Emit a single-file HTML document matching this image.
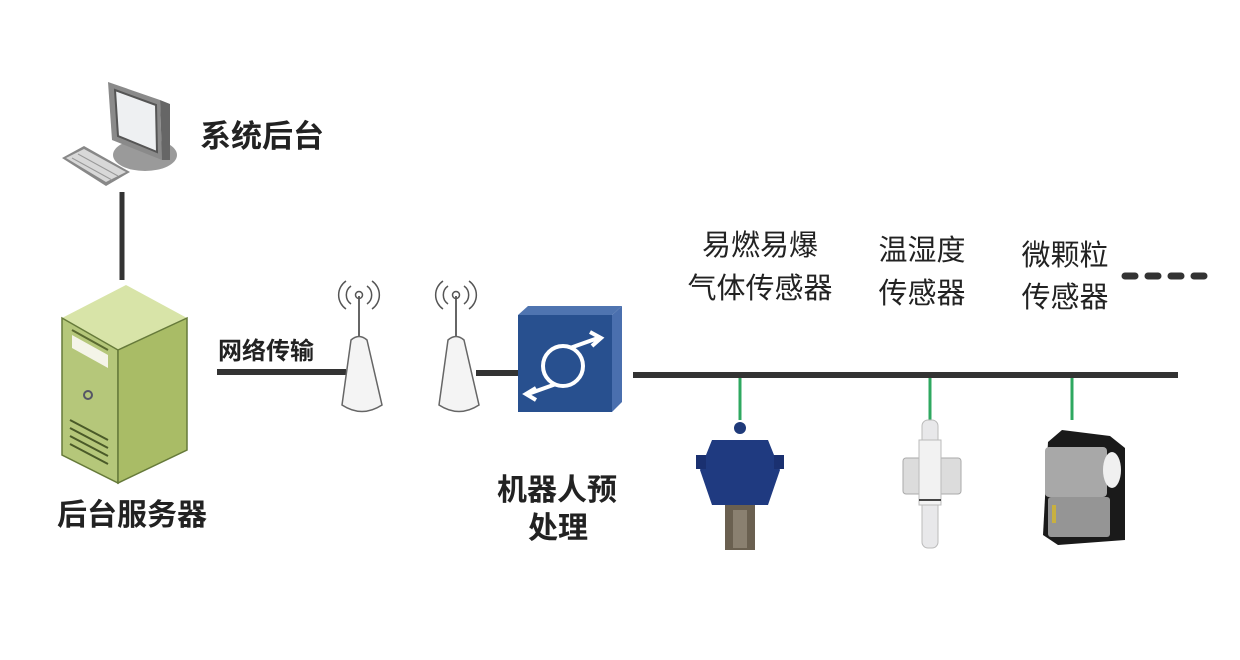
<!DOCTYPE html>
<html><head><meta charset="utf-8"><style>
html,body{margin:0;padding:0;background:#fff;width:1240px;height:660px;overflow:hidden}
svg{display:block}
text{font-family:"Liberation Sans","Noto Sans CJK SC",sans-serif;fill:#222}
</style></head><body>
<svg width="1240" height="660" viewBox="0 0 1240 660">
<!-- monitor -->
<ellipse cx="145" cy="155" rx="32" ry="16" fill="#9a9a9a"/>
<polygon points="108,82 160,100 162,160 112,140" fill="#8a8a8a"/>
<polygon points="115,90 156,105 157,152 118,136" fill="#eef0f2" stroke="#555" stroke-width="2"/>
<polygon points="160,100 170,104 170,160 162,160" fill="#666"/>
<!-- keyboard -->
<polygon points="62,158 84,146 130,172 106,186" fill="#888"/>
<polygon points="66,158 84,149 126,172 106,182" fill="#d8d8d8"/>
<g stroke="#999" stroke-width="1"><line x1="72" y1="158" x2="112" y2="180"/><line x1="78" y1="154" x2="118" y2="176"/></g>
<line x1="122" y1="192" x2="122" y2="280" stroke="#333" stroke-width="5"/>
<text x="200" y="147" font-size="31" font-weight="bold">系统后台</text>
<!-- server -->
<polygon points="62,318 126,285 187,318 118,350" fill="#d8e4a8"/>
<polygon points="62,318 118,350 118,483 62,455" fill="#b5c77a" stroke="#667a3a" stroke-width="1.5"/>
<polygon points="118,350 187,318 187,450 118,483" fill="#a9bc66" stroke="#667a3a" stroke-width="1.5"/>
<polygon points="72,335 108,355 108,368 72,348" fill="#f4f4e8"/>
<line x1="72" y1="330" x2="108" y2="350" stroke="#5a6a30" stroke-width="2"/>
<circle cx="88" cy="395" r="4" fill="none" stroke="#556" stroke-width="2"/>
<g stroke="#4a5a28" stroke-width="2"><line x1="70" y1="420" x2="108" y2="440"/><line x1="70" y1="428" x2="108" y2="448"/><line x1="70" y1="436" x2="108" y2="456"/><line x1="70" y1="444" x2="108" y2="464"/></g>
<text x="57" y="525" font-size="30" font-weight="bold">后台服务器</text>
<!-- network line -->
<line x1="217" y1="372" x2="346" y2="372" stroke="#333" stroke-width="6"/>
<text x="218" y="359" font-size="24" font-weight="bold">网络传输</text>
<!-- antennas -->
<g>
<line x1="359" y1="296" x2="359" y2="340" stroke="#666" stroke-width="2"/>
<circle cx="359" cy="295" r="3.5" fill="none" stroke="#555" stroke-width="1.5"/>
<path d="M351,286 a11,11 0 0 0 0,18 M346,281 a17,17 0 0 0 0,28 M367,286 a11,11 0 0 1 0,18 M372,281 a17,17 0 0 1 0,28" fill="none" stroke="#555" stroke-width="1.5"/>
<path d="M351,340 Q359,333 367,340 L382,405 Q362,418 342,405 Z" fill="#f4f4f4" stroke="#666" stroke-width="1.5"/>
</g>
<g transform="translate(97,0)">
<line x1="359" y1="296" x2="359" y2="340" stroke="#666" stroke-width="2"/>
<circle cx="359" cy="295" r="3.5" fill="none" stroke="#555" stroke-width="1.5"/>
<path d="M351,286 a11,11 0 0 0 0,18 M346,281 a17,17 0 0 0 0,28 M367,286 a11,11 0 0 1 0,18 M372,281 a17,17 0 0 1 0,28" fill="none" stroke="#555" stroke-width="1.5"/>
<path d="M351,340 Q359,333 367,340 L382,405 Q362,418 342,405 Z" fill="#f4f4f4" stroke="#666" stroke-width="1.5"/>
</g>
<line x1="476" y1="373" x2="520" y2="373" stroke="#333" stroke-width="6"/>
<!-- box -->
<polygon points="518,315 528,306 622,306 612,315" fill="#4f74b0"/>
<polygon points="612,315 622,306 622,402 612,412" fill="#4a6fae"/>
<rect x="518" y="315" width="94" height="97" fill="#28508f"/>
<circle cx="563" cy="366" r="20" fill="none" stroke="#fff" stroke-width="4"/>
<path d="M570,348 L598,338 M590,332 L601,338 L592,346" fill="none" stroke="#fff" stroke-width="4"/>
<path d="M556,384 L528,394 M536,388 L526,394 L536,400" fill="none" stroke="#fff" stroke-width="4"/>
<text x="497" y="500" font-size="30" font-weight="bold">机器人预</text>
<text x="528" y="538" font-size="30" font-weight="bold">处理</text>
<!-- bus -->
<line x1="633" y1="375" x2="1178" y2="375" stroke="#333" stroke-width="6"/>
<g stroke="#2fa860" stroke-width="3"><line x1="740" y1="378" x2="740" y2="420"/><line x1="930" y1="378" x2="930" y2="420"/><line x1="1072" y1="378" x2="1072" y2="420"/></g>
<g font-size="29" text-anchor="middle">
<text x="760" y="255">易燃易爆</text><text x="760" y="298">气体传感器</text>
<text x="922" y="260">温湿度</text><text x="922" y="303">传感器</text>
<text x="1065" y="265">微颗粒</text><text x="1065" y="307">传感器</text>
</g>
<g stroke="#333" stroke-width="7" stroke-linecap="round"><line x1="1125" y1="276" x2="1135" y2="276"/><line x1="1148" y1="276" x2="1158" y2="276"/><line x1="1171" y1="276" x2="1181" y2="276"/><line x1="1194" y1="276" x2="1204" y2="276"/></g>
<!-- gas sensor -->
<circle cx="740" cy="428" r="6" fill="#1f3a7a"/>
<polygon points="712,440 768,440 780,470 768,505 712,505 700,470" fill="#1f3a80"/>
<rect x="696" y="455" width="10" height="14" fill="#1a3070"/><rect x="774" y="455" width="10" height="14" fill="#1a3070"/>
<rect x="725" y="505" width="30" height="45" fill="#6a6050"/>
<rect x="733" y="510" width="14" height="38" fill="#8a8070"/>
<!-- temp sensor -->
<rect x="922" y="420" width="16" height="128" rx="6" fill="#e8e8ea" stroke="#bbb"/>
<rect x="903" y="458" width="58" height="36" rx="3" fill="#dcdcdc" stroke="#aaa"/>
<rect x="919" y="440" width="22" height="65" fill="#f2f2f2" stroke="#bbb"/>
<line x1="919" y1="500" x2="941" y2="500" stroke="#444" stroke-width="2"/>
<!-- particle sensor -->
<polygon points="1048,442 1062,430 1110,436 1125,448 1125,540 1058,545 1043,535" fill="#1a1a1a"/>
<rect x="1045" y="447" width="62" height="50" rx="4" fill="#a8a8a8"/>
<rect x="1048" y="497" width="62" height="40" rx="3" fill="#959595"/>
<ellipse cx="1112" cy="470" rx="9" ry="18" fill="#f0f0f0"/>
<rect x="1052" y="505" width="4" height="18" fill="#c8b040"/>
</svg>
</body></html>
